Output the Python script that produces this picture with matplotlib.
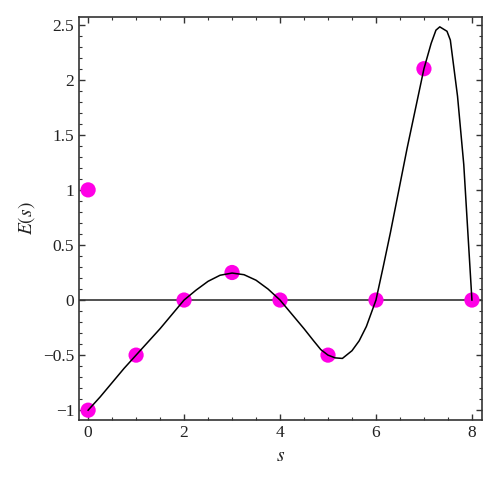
import matplotlib
matplotlib.use("Agg")
import matplotlib.pyplot as plt
from matplotlib.ticker import MultipleLocator

# Sample points (magenta dots)
pts_s = [0, 0, 1, 2, 3, 4, 5, 6, 7, 8]
pts_E = [1, -1, -0.5, 0, 0.25, 0, -0.5, 0, 2.1, 0]

# Curve E(s), values
curve_s = [0, 0.25, 0.5, 0.75, 1, 1.25, 1.5, 1.75, 2, 2.25, 2.5, 2.75, 3,
           3.25, 3.5, 3.75, 4, 4.25, 4.5, 4.7, 4.85, 5, 5.15, 5.3, 5.5, 5.65,
           5.8, 6, 6.15, 6.3, 6.65, 7, 7.15, 7.25, 7.33, 7.48, 7.55, 7.7,
           7.83, 8]
curve_E = [-1, -0.88, -0.75, -0.62, -0.5, -0.38, -0.26, -0.13, 0, 0.09, 0.17,
           0.225, 0.245, 0.23, 0.18, 0.1, 0, -0.13, -0.26, -0.37, -0.45,
           -0.5, -0.525, -0.53, -0.46, -0.37, -0.24, 0, 0.3, 0.61, 1.38, 2.1,
           2.33, 2.45, 2.48, 2.44, 2.36, 1.85, 1.23, 0]

x_ticks = [0, 2, 4, 6, 8]
y_ticks = [-1, -0.5, 0, 0.5, 1, 1.5, 2, 2.5]
y_labels = ["\u22121", "\u22120.5", "0", "0.5", "1", "1.5", "2", "2.5"]

plt.rcParams['font.family'] = ['Liberation Serif', 'DejaVu Serif']
plt.rcParams['mathtext.fontset'] = 'stix'

fig = plt.figure(figsize=(5.0, 4.84), dpi=100)
ax = fig.add_axes([0.158, 0.132, 0.806, 0.833])

ax.axhline(0, color='#333333', lw=1.2, zorder=1)
ax.scatter(pts_s, pts_E, s=120, color='#FF00E6', edgecolors='none', zorder=2)
ax.plot(curve_s, curve_E, color='black', lw=1.1, zorder=3)

ax.set_xlim(-0.19, 8.21)
ax.set_ylim(-1.09, 2.57)
ax.set_xticks(x_ticks)
ax.set_xticklabels([str(v) for v in x_ticks])
ax.set_yticks(y_ticks)
ax.set_yticklabels(y_labels)
ax.xaxis.set_minor_locator(MultipleLocator(0.5))
ax.yaxis.set_minor_locator(MultipleLocator(0.1))
ax.tick_params(which='both', direction='in', top=True, right=True,
               colors='#333333', labelcolor='#222222', labelsize=12.5)
ax.tick_params(which='major', length=4, width=1)
ax.tick_params(which='minor', length=2, width=0.8)
for sp in ax.spines.values():
    sp.set_color('#333333')
    sp.set_linewidth(1.2)

ax.set_xlabel('$s$', fontsize=14, color='#222222', labelpad=5)
ax.set_ylabel('$E(s)$', fontsize=14, color='#222222', labelpad=4)

fig.savefig('out.png', dpi=100)
